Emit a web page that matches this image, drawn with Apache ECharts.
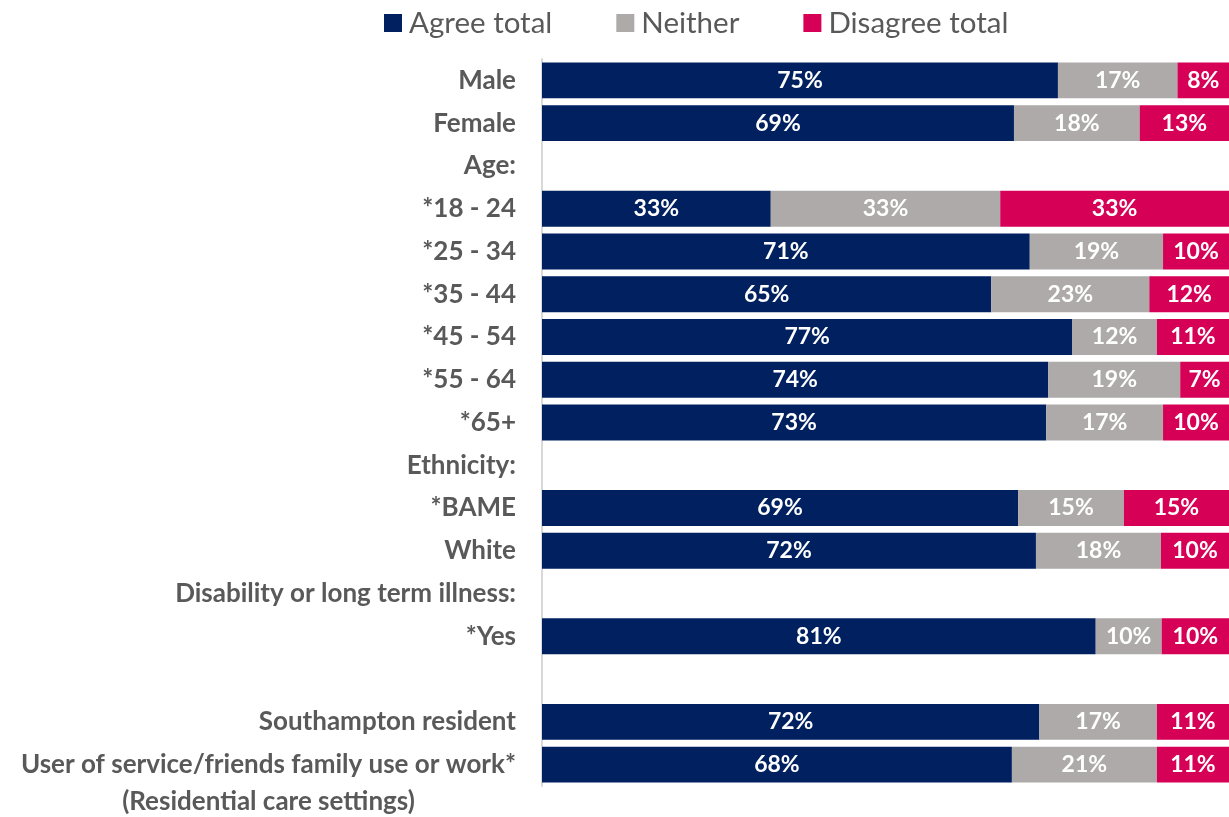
<!DOCTYPE html>
<html>
<head>
<meta charset="utf-8">
<script src="https://cdn.jsdelivr.net/npm/echarts@6/dist/echarts.min.js"></script>
<style>
html,body{margin:0;padding:0;background:#fff;}
#chart{width:1229px;height:817px;}
</style>
</head>
<body>
<div id="chart"></div>
<script>
const categories = [
  'Male', 'Female', 'Age:', '*18 - 24', '*25 - 34', '*35 - 44', '*45 - 54', '*55 - 64', '*65+',
  'Ethnicity:', '*BAME', 'White', 'Disability or long term illness:', '*Yes', '',
  'Southampton resident', 'User of service/friends family use or work*\n(Residential care settings)'
];
const seriesNames = ['Agree total', 'Neither', 'Disagree total'];
const agreeValues    = [75.1, 68.7, null, 33.3, 71.0, 65.4, 77.2, 73.7, 73.4, null, 69.3, 71.9, null, 80.6, null, 72.4, 68.4];
const neitherValues  = [17.4, 18.3, null, 33.4, 19.4, 23.0, 12.3, 19.2, 17.0, null, 15.4, 18.2, null,  9.6, null, 17.1, 21.1];
const disagreeValues = [ 7.5, 13.0, null, 33.3,  9.6, 11.6, 10.5,  7.1,  9.6, null, 15.3,  9.9, null,  9.8, null, 10.5, 10.5];
const colors = ['#002060', '#AEAAAA', '#D60057'];

const chart = echarts.init(document.getElementById('chart'), null, {renderer: 'canvas'});
const fontFamily = 'Lato, "Open Sans", sans-serif';
const labelSize = 26;

function mkSeries(name, data, color) {
  return {
    name: name,
    type: 'bar',
    stack: 'total',
    data: data,
    barCategoryGap: '16%',
    itemStyle: {color: color},
    label: {
      show: true,
      position: 'inside',
      color: '#ffffff',
      fontFamily: fontFamily,
      fontWeight: 'bold',
      fontSize: 23,
      formatter: p => (p.value == null ? '' : Math.round(p.value) + '%')
    }
  };
}

chart.setOption({
  animation: false,
  legend: {
    data: seriesNames,
    top: 3,
    left: 379,
    itemWidth: 18,
    itemHeight: 18,
    itemGap: 64,
    icon: 'rect',
    textStyle: {color: '#595959', fontSize: 29.5, fontFamily: fontFamily, padding: [0, 0, 0, 2]}
  },
  grid: {left: 542, right: 0, top: 59, bottom: 31, containLabel: false},
  xAxis: {
    type: 'value', min: 0, max: 100, show: false
  },
  yAxis: {
    type: 'category',
    inverse: true,
    data: categories,
    axisLine: {show: true, lineStyle: {color: '#D9D9D9', width: 2}},
    axisTick: {show: false},
    axisLabel: {
      margin: 26,
      color: '#595959',
      fontFamily: fontFamily,
      fontWeight: 'bold',
      fontSize: labelSize,
      interval: 0,
      formatter: function (v) {
        const parts = v.split('\n');
        if (parts.length > 1) {
          return '{a| }\n{a|' + parts[0] + '}\n{b|' + parts[1] + '}';
        }
        return v;
      },
      rich: {
        a: {color: '#595959', fontFamily: fontFamily, fontWeight: 'bold', fontSize: labelSize, lineHeight: 37},
        b: {color: '#595959', fontFamily: fontFamily, fontWeight: 'bold', fontSize: labelSize, lineHeight: 37, align: 'center'}
      }
    }
  },
  series: [
    mkSeries(seriesNames[0], agreeValues, colors[0]),
    mkSeries(seriesNames[1], neitherValues, colors[1]),
    mkSeries(seriesNames[2], disagreeValues, colors[2])
  ]
});
</script>
</body>
</html>
